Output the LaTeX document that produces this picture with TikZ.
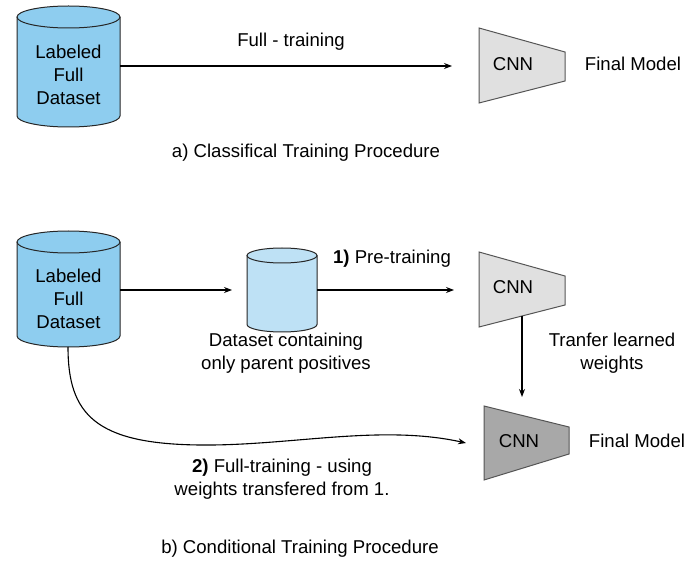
\documentclass[tikz,border=0pt]{standalone}
\usepackage{fontspec}
\setmainfont{Liberation Sans}
\usetikzlibrary{arrows.meta}
\definecolor{cylblue}{HTML}{8ECDEF}
\definecolor{cyllight}{HTML}{BEE1F5}
\definecolor{cnnlight}{HTML}{E0E0E0}
\definecolor{cnndark}{HTML}{A8A8A8}
\definecolor{edgegray}{HTML}{555555}
\newcommand{\mycyl}[7]{% name, x1, x2, ytop, ybot, ry, color
  \pgfmathsetmacro{\cx}{(#2+#3)/2}\pgfmathsetmacro{\rx}{(#3-#2)/2}
  \fill[#7] (#2,#4-#6) -- (#2,#5+#6) arc[start angle=180,end angle=360,x radius=\rx,y radius=#6] -- (#3,#4-#6) arc[start angle=0,end angle=180,x radius=\rx,y radius=#6] -- cycle;
  \draw[cylline] (#2,#4-#6) -- (#2,#5+#6) arc[start angle=180,end angle=360,x radius=\rx,y radius=#6] -- (#3,#4-#6);
  \draw[cylline] (\cx,#4-#6) ellipse[x radius=\rx,y radius=#6];
  \node[inner sep=0,minimum width=#3-#2,minimum height=#4-#5] (#1) at (\cx,{(#4+#5)/2}) {};
}
\begin{document}
\begin{tikzpicture}[x=1pt,y=1pt,
  cylline/.style={draw=black!85,line width=1pt},
  trap/.style={draw=edgegray,line width=1pt},
  lbl/.style={font=\fontsize{18.6}{22.8}\selectfont,align=center,inner sep=0},
  arr/.style={line width=1.1pt,-{Stealth[length=8pt,width=6pt]}}]
\useasboundingbox (0,0) rectangle (697,574);
% ---------- a) ----------
\mycyl{ds1}{17}{120}{568}{447}{11}{cylblue}
\node[lbl] at (68.5,499) {Labeled\\Full\\Dataset};
\draw[trap,fill=cnnlight] (479,546) -- (565,522) -- (565,493) -- (479,471) -- cycle;
\node[lbl] (cnn1) at (513,510) {CNN};
\node[lbl] (fm1) at (633,510) {Final Model};
\coordinate (t1) at (452,508);
\draw[arr] (ds1.east |- t1) -- (t1);
\node[lbl] (ftop) at (291,532) {Full - training};
\node[lbl] (capa) at (306,421) {a) Classifical Training Procedure};
% ---------- b) ----------
\mycyl{ds2}{17}{120}{343}{227}{11}{cylblue}
\node[lbl] at (68.5,275) {Labeled\\Full\\Dataset};
\mycyl{ds3}{247}{317}{326}{242}{7.5}{cyllight}
\node[lbl] (ds3t) at (286,221) {Dataset containing\\only parent positives};
\draw[trap,fill=cnnlight] (479,322) -- (565,298) -- (565,269) -- (479,247) -- cycle;
\node[lbl] (cnn2) at (513,287) {CNN};
\draw[trap,fill=cnndark] (484,168) -- (569,147) -- (569,120) -- (484,94) -- cycle;
\node[lbl] (cnn3) at (519,133) {CNN};
\node[lbl] (fm2) at (637,133) {Final Model};
\coordinate (t2) at (232,284);
\draw[arr] (ds2.east |- t2) -- (t2);
\coordinate (t3) at (454,284);
\draw[arr] (ds3.east |- t3) -- (t3);
\node[lbl] (pre) at (392,315) {\textbf{1)} Pre-training};
\coordinate (v1) at (522,258);
\coordinate (v2) at (522,177);
\draw[arr] (v1) -- (v2);
\node[lbl] (tr) at (612,221) {Tranfer learned\\weights};
\coordinate (c0) at (68,227);
\coordinate (c1) at (200,129);
\coordinate (c2) at (466,131);
\draw[arr] (c0) .. controls (68,160) and (95,130) .. (c1) .. controls (290,128) and (380,150) .. (c2);
\node[lbl] (ft) at (282,95) {\textbf{2)} Full-training - using\\weights transfered from 1.};
\node[lbl] (capb) at (300,25) {b) Conditional Training Procedure};
\end{tikzpicture}
\end{document}
